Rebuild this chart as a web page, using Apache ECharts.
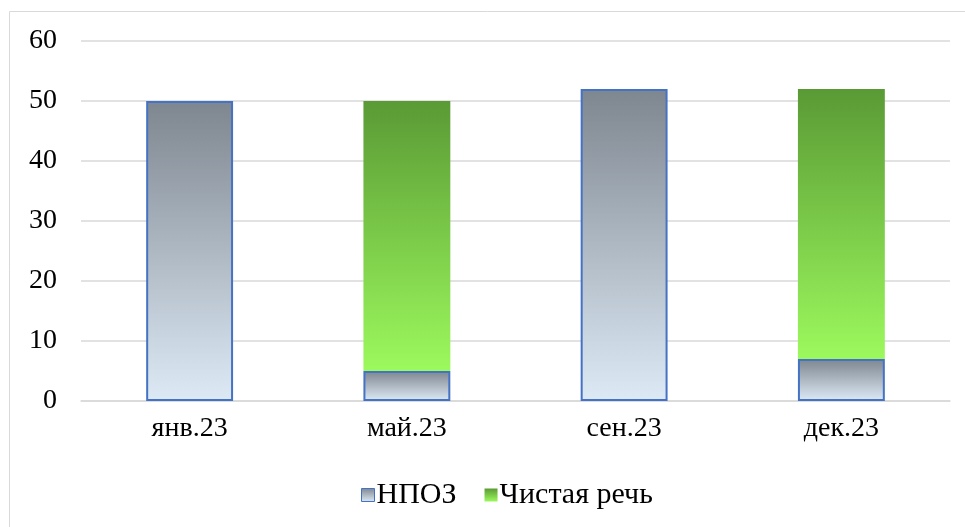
<!DOCTYPE html>
<html>
<head>
<meta charset="utf-8">
<script src="https://cdn.jsdelivr.net/npm/echarts@6/dist/echarts.min.js"></script>
<style>
  html, body { margin: 0; padding: 0; background: #fff; }
  #chart { width: 965px; height: 527px; }
</style>
</head>
<body>
<div id="chart"></div>
<script>
// data
const categories = ['янв.23', 'май.23', 'сен.23', 'дек.23']
const npoz = [50, 5, 52, 7]
const speech = [0, 45, 0, 45]

const font = '"Liberation Serif", "Times New Roman", serif'

const grayGrad = new echarts.graphic.LinearGradient(0, 0, 0, 1, [
  { offset: 0, color: '#7e868f' },
  { offset: 1, color: '#ddeaf6' }
])
const greenGrad = new echarts.graphic.LinearGradient(0, 0, 0, 1, [
  { offset: 0, color: '#5a9a35' },
  { offset: 1, color: '#9cf95d' }
])

const chart = echarts.init(document.getElementById('chart'))
chart.setOption({
  animation: false,
  graphic: [{
    type: 'rect',
    shape: { x: 9.5, y: 11.5, width: 1000, height: 600 },
    style: { fill: 'none', stroke: '#d9d9d9', lineWidth: 1 },
    silent: true
  }],
  grid: { left: 81, right: 15, top: 41, bottom: 126 },
  legend: {
    bottom: 12,
    left: 356,
    icon: 'rect',
    itemWidth: 13,
    itemHeight: 13,
    itemGap: 28,
    textStyle: { fontFamily: font, fontSize: 30, color: '#000', padding: [0, 0, 0, -3] },
    data: [
      { name: 'НПОЗ', itemStyle: { color: grayGrad, borderColor: '#4472c4', borderWidth: 1 } },
      { name: 'Чистая речь', itemStyle: { color: greenGrad, borderWidth: 0 } }
    ]
  },
  xAxis: {
    type: 'category',
    data: categories,
    axisLine: { lineStyle: { color: '#d9d9d9', width: 1.5 } },
    axisTick: { show: false },
    axisLabel: { fontFamily: font, fontSize: 28, color: '#000', margin: 14 }
  },
  yAxis: {
    type: 'value',
    min: 0,
    max: 60,
    interval: 10,
    axisLine: { show: false },
    axisTick: { show: false },
    axisLabel: { fontFamily: font, fontSize: 28, color: '#000', margin: 24 },
    splitLine: { lineStyle: { color: '#d9d9d9', width: 1.5 } }
  },
  series: [
    {
      name: 'НПОЗ',
      type: 'bar',
      stack: 'total',
      barWidth: '40%',
      data: npoz,
      itemStyle: { color: grayGrad, borderColor: '#4472c4', borderWidth: 2 }
    },
    {
      name: 'Чистая речь',
      type: 'bar',
      stack: 'total',
      barWidth: '40%',
      data: speech.map(v => v === 0 ? null : v),
      itemStyle: { color: greenGrad }
    }
  ]
})
</script>
</body>
</html>
